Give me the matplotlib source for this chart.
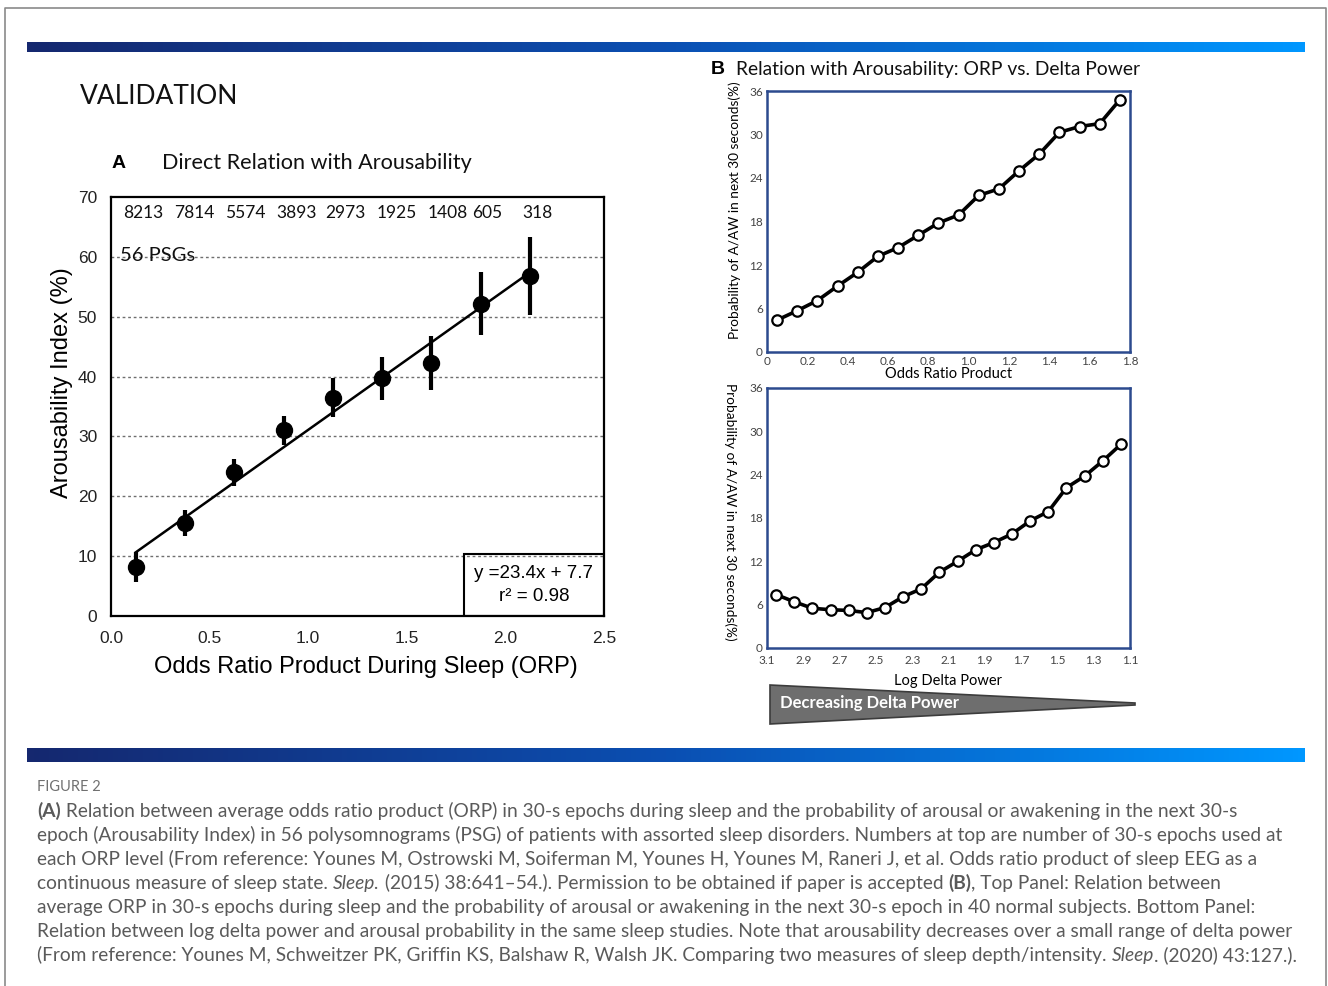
import matplotlib
matplotlib.use("Agg")
import matplotlib.pyplot as plt
import numpy as np
from matplotlib.colors import LinearSegmentedColormap
from matplotlib.patches import Rectangle, Polygon

# Panel A : arousability index vs ORP (56 PSGs)
orp_x = [0.125, 0.375, 0.625, 0.875, 1.125, 1.375, 1.625, 1.875, 2.125]
arous_y = [8.2, 15.5, 24.0, 31.0, 36.5, 39.7, 42.2, 52.2, 56.8]
arous_err = [2.5, 2.2, 2.3, 2.4, 3.3, 3.6, 4.5, 5.3, 6.5]
epoch_counts = ["8213", "7814", "5574", "3893", "2973", "1925", "1408", "605", "318"]
count_x = [0.163, 0.42, 0.68, 0.94, 1.19, 1.45, 1.71, 1.91, 2.16]
slope, intercept = 23.4, 7.7

# Panel B top : probability vs odds ratio product
orp_b = [0.05, 0.15, 0.25, 0.35, 0.45, 0.55, 0.65, 0.75, 0.85, 0.95,
         1.05, 1.15, 1.25, 1.35, 1.45, 1.55, 1.65, 1.75]
prob_orp = [4.4, 5.7, 7.1, 9.1, 11.0, 13.2, 14.4, 16.1, 17.8, 18.9,
            21.6, 22.5, 25.0, 27.3, 30.3, 31.1, 31.5, 34.8]

# Panel B bottom : probability vs log delta power
log_delta = [3.05, 2.95, 2.85, 2.75, 2.65, 2.55, 2.45, 2.35, 2.25, 2.15,
             2.05, 1.95, 1.85, 1.75, 1.65, 1.55, 1.45, 1.35, 1.25, 1.15]
prob_delta = [7.4, 6.4, 5.5, 5.3, 5.2, 4.9, 5.6, 7.1, 8.2, 10.5,
              12.0, 13.6, 14.6, 15.8, 17.6, 18.9, 22.2, 23.8, 25.9, 28.2]

W, H = 1328, 986
fig = plt.figure(figsize=(W / 100, H / 100), dpi=100)
fig.patch.set_facecolor("white")

ARIAL = "Liberation Sans"
CALI = "Lato"


def px_axes(l, t, r, b):
    return fig.add_axes([l / W, 1 - b / H, (r - l) / W, (b - t) / H])


# ---- Panel A
axA = px_axes(111, 197, 604, 616)
axA.set_xlim(0, 2.5)
axA.set_ylim(0, 70)
for y in [10, 20, 30, 40, 50, 60]:
    axA.axhline(y, color="#6f6f6f", lw=1.0, ls=(0, (2, 2)), zorder=1)
axA.plot([orp_x[0], orp_x[-1]],
         [slope * orp_x[0] + intercept, slope * orp_x[-1] + intercept],
         color="black", lw=1.8, zorder=2)
axA.errorbar(orp_x, arous_y, yerr=arous_err, fmt="o", color="black",
             ms=11.5, elinewidth=3, capsize=0, zorder=3)
for s, cx in zip(epoch_counts, count_x):
    axA.text(cx, 67.3, s, ha="center", va="center", fontsize=12.5,
             family=CALI, color="#111111")
axA.text(0.045, 60.3, "56 PSGs", ha="left", va="center", fontsize=14.5,
         family=CALI, color="#111111", zorder=4)
axA.add_patch(Rectangle((1.789, 0), 0.711, 10.36, fill=False, ec="black",
                        lw=1.5, zorder=4))
axA.text(2.145, 7.1, "y =23.4x + 7.7", ha="center", va="center",
         fontsize=13.5, family=ARIAL)
axA.text(2.145, 3.3, "r\u00b2 = 0.98", ha="center", va="center",
         fontsize=13.5, family=ARIAL)
axA.set_xticks([0.0, 0.5, 1.0, 1.5, 2.0, 2.5])
axA.set_xticklabels(["0.0", "0.5", "1.0", "1.5", "2.0", "2.5"])
axA.set_yticks(range(0, 71, 10))
axA.tick_params(length=0, labelsize=12.5, labelcolor="#222222")
axA.tick_params(axis="x", pad=11)
axA.tick_params(axis="y", pad=10)
for lab in axA.get_xticklabels() + axA.get_yticklabels():
    lab.set_family(ARIAL)
for sp in axA.spines.values():
    sp.set_linewidth(1.6)
axA.set_ylabel("Arousability Index (%)", fontsize=17, family=ARIAL, va="center")
axA.yaxis.set_label_coords(-0.099, 0.556)
axA.set_xlabel("Odds Ratio Product During Sleep (ORP)", fontsize=17,
               family=ARIAL, va="center")
axA.xaxis.set_label_coords(0.517, -0.122)

# ---- Panel B
FRAME = "#2c4a8e"


def style_b(ax):
    for sp in ax.spines.values():
        sp.set_color(FRAME)
        sp.set_linewidth(1.8)
    ax.tick_params(length=0, labelsize=8.5, labelcolor="#444444", pad=3)
    for lab in ax.get_xticklabels() + ax.get_yticklabels():
        lab.set_family(CALI)


axB1 = px_axes(767, 91, 1130, 352)
axB1.plot(orp_b, prob_orp, color="black", lw=2.6, marker="o", ms=7.5,
          mfc="white", mec="black", mew=1.6, clip_on=False)
axB1.set_xlim(0, 1.8)
axB1.set_ylim(0, 36)
axB1.set_xticks([0, 0.2, 0.4, 0.6, 0.8, 1.0, 1.2, 1.4, 1.6, 1.8])
axB1.set_xticklabels(["0", "0.2", "0.4", "0.6", "0.8", "1.0", "1.2", "1.4", "1.6", "1.8"])
axB1.set_yticks(range(0, 37, 6))
style_b(axB1)
axB1.set_xlabel("Odds Ratio Product", fontsize=10.5, family=CALI, labelpad=0)
axB1.set_ylabel("Probability of A/AW in next 30 seconds(%)", fontsize=9.8,
                family=CALI, va="center")
axB1.yaxis.set_label_coords(-0.088, 0.544)

axB2 = px_axes(767, 388, 1130, 648)
axB2.plot(log_delta, prob_delta, color="black", lw=2.6, marker="o", ms=7.5,
          mfc="white", mec="black", mew=1.6, clip_on=False)
axB2.set_xlim(3.1, 1.1)
axB2.set_ylim(0, 36)
axB2.set_xticks([3.1, 2.9, 2.7, 2.5, 2.3, 2.1, 1.9, 1.7, 1.5, 1.3, 1.1])
axB2.set_xticklabels(["3.1", "2.9", "2.7", "2.5", "2.3", "2.1", "1.9", "1.7", "1.5", "1.3", "1.1"])
axB2.set_yticks(range(0, 37, 6))
style_b(axB2)
axB2.tick_params(axis="x", pad=5)
axB2.set_xlabel("Log Delta Power", fontsize=10.5, family=CALI, labelpad=6)
axB2.set_ylabel("Probability of A/AW in next 30 seconds(%)", fontsize=9.8,
                family=CALI, rotation=270, va="center")
axB2.yaxis.set_label_coords(-0.102, 0.523)

# ---- overlay in pixel coordinates
ov = fig.add_axes([0, 0, 1, 1], zorder=10)
ov.set_xlim(0, W)
ov.set_ylim(H, 0)
ov.axis("off")
ov.patch.set_alpha(0)

# page frame
ov.plot([5, 5, 1326, 1326], [990, 8, 8, 990], color="#8a8a8a", lw=1.2)

# gradient bars
bar_cmap = LinearSegmentedColormap.from_list("bar", ["#15286f", "#0b4fb2", "#0097ff"])
grad = np.linspace(0, 1, 400).reshape(1, -1)
for top, bot in [(42, 52), (748, 762)]:
    ov.imshow(grad, cmap=bar_cmap, aspect="auto", extent=(27, 1305, bot, top),
              interpolation="bilinear")
ov.set_xlim(0, W)
ov.set_ylim(H, 0)

ov.text(80, 97, "VALIDATION", fontsize=19, family=CALI, va="center", ha="left",
        color="#111111")
ov.text(112, 163, "A", fontsize=14, family=ARIAL, weight="bold", va="center")
ov.text(162, 163, "Direct Relation with Arousability", fontsize=15.6, family=CALI,
        va="center", color="#111111")
ov.text(711, 70, "B", fontsize=14, family=ARIAL, weight="bold", va="center")
ov.text(736, 70, "Relation with Arousability: ORP vs. Delta Power", fontsize=13.9,
        family=CALI, va="center", color="#111111")

# decreasing delta power wedge
ov.add_patch(Polygon([(770, 685), (1135, 703), (1135, 705), (770, 724)],
                     closed=True, fc="#6e6e6e", ec="#3c3c3c", lw=1.2))
ov.text(780, 703, "Decreasing Delta Power", fontsize=12, family=CALI,
        weight="bold", color="white", va="center")

# caption
CAP = "#5a5a5a"
CAP_FS = 13.8
ov.text(37, 787, "FIGURE 2", fontsize=10.5, family=CALI, color="#707070",
        va="center")

caption = [
    [("(A)", "bold"), (" Relation between average odds ratio product (ORP) in 30-s epochs during sleep and the probability of arousal or awakening in the next 30-s", "normal")],
    [("epoch (Arousability Index) in 56 polysomnograms (PSG) of patients with assorted sleep disorders. Numbers at top are number of 30-s epochs used at", "normal")],
    [("each ORP level (From reference: Younes M, Ostrowski M, Soiferman M, Younes H, Younes M, Raneri J, et al. Odds ratio product of sleep EEG as a", "normal")],
    [("continuous measure of sleep state. ", "normal"), ("Sleep.", "italic"),
     (" (2015) 38:641\u201354.). Permission to be obtained if paper is accepted ", "normal"),
     ("(B)", "bold"), (", Top Panel: Relation between", "normal")],
    [("average ORP in 30-s epochs during sleep and the probability of arousal or awakening in the next 30-s epoch in 40 normal subjects. Bottom Panel:", "normal")],
    [("Relation between log delta power and arousal probability in the same sleep studies. Note that arousability decreases over a small range of delta power", "normal")],
    [("(From reference: Younes M, Schweitzer PK, Griffin KS, Balshaw R, Walsh JK. Comparing two measures of sleep depth/intensity. ", "normal"),
     ("Sleep", "italic"), (". (2020) 43:127.).", "normal")],
]

renderer = fig.canvas.get_renderer()
y = 811
for line in caption:
    x = 37
    for txt, st in line:
        kw = dict(fontsize=CAP_FS, family=CALI, color=CAP, va="center", ha="left")
        if st == "bold":
            kw["weight"] = "bold"
        if st == "italic":
            kw["style"] = "italic"
        t = ov.text(x, y, txt, **kw)
        x += t.get_window_extent(renderer=renderer).width
    y += 24

fig.savefig("out.png", dpi=100)
